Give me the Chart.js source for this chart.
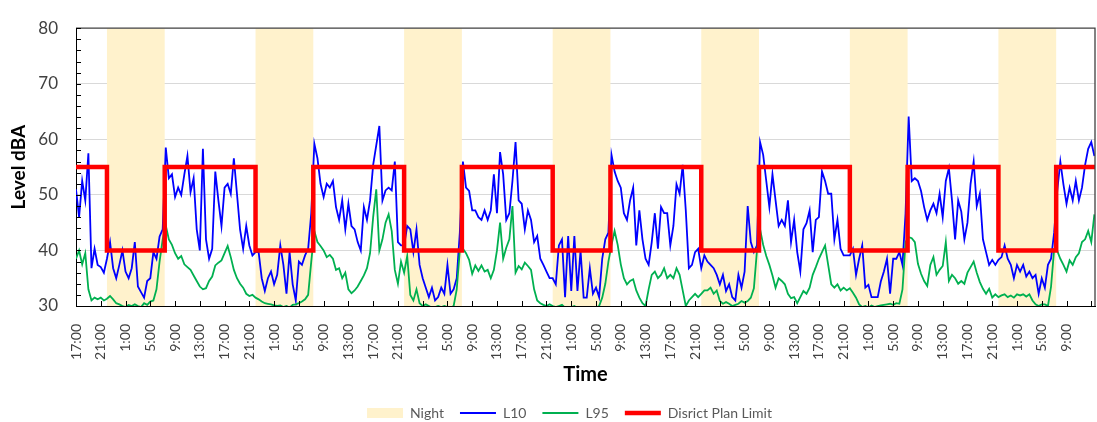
<!DOCTYPE html>
<html lang="en">
<head>
<meta charset="UTF-8">
<title>Noise levels</title>
<script src="https://cdn.jsdelivr.net/npm/chart.js"></script>
<style>
    html, body { margin: 0; padding: 0; background: #fff; }
    canvas { display: block; }
</style>
</head>
<body>
<canvas id="noiseChart" width="1097" height="422"></canvas>
<script>
// half-hourly readings, first one at 17:00
const START_HOUR = 17;
const STEP_HOURS = 0.5;
const AXIS_END = 164.6;   // hours shown on the time axis
const Y_MIN = 30;
const Y_MAX = 80;

// L10 (dBA)
const l10 = [
    51, 46, 52.5, 49, 57.5, 36.8, 40.3, 37.4, 37, 36, 38.5, 41.5, 36.8, 35, 37.4, 40, 36.2, 35, 36.8, 41.5,
    33.5, 32.5, 31.5, 34.5, 35, 39.7, 38.5, 42.5, 43.8, 58.5, 53, 53.7, 49.6, 51.3, 50, 53.7, 57, 50.5, 53, 43.8, 40,
    58.3, 42, 38.5, 40.3, 54.2, 49, 44.4, 51.3, 52, 50.2, 56.6, 50.2, 43.8, 40.3, 44.4, 40.9, 39.1, 39.7, 39.7, 35,
    32.7, 35, 36.2, 33.9, 35.6, 40.9, 37.4, 32.2, 39.7, 33.9, 31, 38, 37.4, 39.1, 40.3, 46.7, 59.2, 56.6, 52, 49.6, 52,
    51.3, 52.5, 47.8, 45.5, 49, 43.8, 48.4, 44.4, 43.8, 41.5, 40, 47.8, 45.5, 49, 55.4, 58.9, 62.4, 49, 50.8, 51.3,
    50.8, 56, 41.5, 40.9, 40.9, 44.4, 43.8, 39.7, 43.8, 37.4, 35, 33.3, 31.6, 33.3, 31, 31.6, 33.3, 32.2, 37.4, 32.2, 33,
    35, 43.2, 56, 51.3, 50.7, 47.2, 47.2, 46, 45.5, 47.2, 45.5, 47.2, 53.7, 46.7, 57.7, 53.7, 45.5, 46.7, 52.5, 59.5,
    49, 48.4, 43.8, 47.2, 45.5, 41.5, 42.6, 38.5, 37.4, 36.2, 35, 35, 33.9, 40.9, 42, 31.6, 42.6, 32.7, 42.6, 32.7,
    40, 31.5, 31.5,
    36.8, 32.2, 33.3, 31.6, 38.5, 42, 43.2, 57.2, 54.2, 52.5, 51.3, 46.7, 45.5, 49, 51.3, 40.9, 47.2, 42, 38.5, 37.4,
    41.5, 46.7, 40.3, 47.8, 46.7, 46.7, 40.9, 44.4, 51.9, 50.2, 55.4, 47.2, 36.8, 37.4, 39.7, 40.3, 36.8, 39.1, 38, 37.4,
    36.8, 35.6,
    33.9, 35.6, 32.7, 33.9, 31.6, 31, 35.6, 33.3, 36.2, 48, 41.5, 39.7, 40.9, 59.5, 57.2, 52.5, 47.8, 53.7, 49, 44.4,
    45.5, 44.4, 49, 41.5, 45.5, 39.7, 36.2, 43.8, 44.9, 47.2, 39.7, 45.5, 46, 54.2, 52.5, 50.2, 50.2, 42, 45.5, 40.3,
    39.1, 39.1,
    39.1, 40.3, 35.6, 38.5, 40.9, 33.3, 33.8, 31.6, 31.6, 31.6, 34.4, 36.2, 38.5, 32.2, 38.5, 38.5, 39.7, 37.4, 46.7, 64.1,
    52.5, 53, 52.5, 50.7, 47.8, 45.5, 47.2, 48.4, 46.7, 50.2, 46, 52.5, 54.8, 49, 42, 49, 47, 42, 45, 52,
    56, 48,
    50.2, 42, 39.7, 37.4, 38.3, 37.4, 38.3, 38.8, 40.9, 38.5, 37.4, 35, 37.4, 36.2, 37.4, 35.3, 36.2, 35, 35.6, 32.2,
    35, 33.3, 37.4, 38.5, 43.2, 50.7, 56, 51.9, 48.4, 51.3, 49, 52.5, 49, 51.3, 55.4, 58.3, 59.5, 57
];

// L95 (dBA)
const l95 = [
    38.5, 40, 37.5, 39.5, 33, 31, 31.5, 31.2, 31.5, 31, 31.3, 31.8, 31.2, 30.5, 30.3, 30, 29.8, 30.2, 30, 30.3,
    30, 29.8, 30.5, 30.2, 30.8, 31, 33, 38, 42, 44.5, 42, 41, 39.5, 38.5, 39, 37.5, 37, 36.5, 35.5, 34.5, 33.5,
    33, 33.2, 34.5, 35.3, 37.3, 37.8, 38.2, 39.5, 40.8, 38.8, 36.5, 35, 34, 33.3, 32.2, 31.8, 32, 31.5, 31.2, 30.8,
    30.5, 30.4, 30.3, 30.1, 30, 30.1, 29.8, 30, 29.7, 30.2, 30.3, 30.5, 30.8, 31.2, 32, 38, 43.5, 41.5, 40.8, 40, 38.8,
    39.2, 38.5, 36.5, 36.8, 35, 36, 33, 32.3, 32.8, 33.5, 34.5, 35.5, 36.8, 39.5, 46, 51, 40, 42, 45, 46.5,
    43.5, 36.5, 34, 38, 36, 39, 32, 31, 33, 30.5, 30, 30.3, 30, 29.7, 29.8, 30, 29.8, 30, 29.8, 29.7, 30,
    33, 40, 40.3, 39.5, 38.3, 35.8, 37.3, 36.3, 37.3, 36.2, 36.5, 35, 36.5, 40, 45, 38.5, 40.5, 42, 48, 36,
    37.2, 36.6, 37.8, 37.2, 36.5, 33, 31, 30.5, 30.2, 30, 30.3, 30, 29.8, 30, 30.2, 29.7, 29.5, 29.8, 30, 29.6,
    29.8, 29.5, 29.7,
    29.6, 29.8, 29.7, 30, 31.5, 34, 38, 41, 43.5, 41, 37.5, 35, 33.9, 34.5, 34.8, 32.8, 31.5, 30.5, 30, 33,
    35.6, 36.2, 35, 35.6, 36.8, 35, 35.6, 35, 36.8, 35.6, 32.8, 30, 31, 31.6, 32.2, 31.6, 32.2, 32.8, 32.8, 33.3,
    32.2, 32.8,
    30.9, 30.4, 30.7, 30.4, 30, 30.2, 30.4, 30.9, 30.6, 30.9, 31.5, 33.2, 40, 43.8, 41, 39, 37.4, 35.5, 33.3, 35,
    34.5, 33.9, 32.2, 31.4, 31.6, 30.5, 31.6, 32.7, 32.2, 33.3, 35.6, 37, 38.5, 39.7, 40.9, 37.4, 33.9, 33.3, 33.9, 32.8,
    33.3, 32.8,
    33.2, 32.4, 31.5, 30.3, 29.8, 30, 29.7, 30.1, 29.8, 30, 30.1, 30.2, 30.3, 30.4, 30.2, 30.5, 30.4, 33, 41.5, 42.4,
    42.2, 41.5, 37.6, 35.8, 34.5, 33.6, 37.4, 38.8, 35.6, 36.5, 37.2, 41.5, 34.5, 35.6, 35, 34, 34.5, 34, 36, 37,
    38, 36,
    34.3, 33.1, 32.2, 33.1, 31.5, 32.1, 31.6, 31.9, 32.1, 31.6, 31.9, 31.5, 32.1, 31.9, 32.1, 31.7, 32.1, 31, 30.3, 30,
    30.3, 30.3, 30, 33.5, 40.2, 39.9, 38.5, 37.4, 36.2, 38.2, 37.4, 38.8, 39.5, 41.5, 42, 43.5, 41.5, 46.5
];

// night periods, in hours from the first reading (22:00 to about 07:20)
const nightStart = [5, 29, 53, 77, 101, 125, 149];
const nightEnd = [14.33, 38.33, 62.33, 86.33, 110.33, 134.33, 158.33];

// district plan limit
const limitDay = 55;
const limitNight = 40;

// build point lists
const l10Points = l10.map((v, i) => ({ x: i * STEP_HOURS, y: v }));
const l95Points = l95.map((v, i) => ({ x: i * STEP_HOURS, y: v }));

const nightPoints = [{ x: 0, y: Y_MIN }];
const limitPoints = [{ x: 0, y: limitDay }];
nightStart.forEach((s, i) => {
    nightPoints.push({ x: s, y: Y_MAX }, { x: nightEnd[i], y: Y_MIN });
    limitPoints.push({ x: s, y: limitNight }, { x: nightEnd[i], y: limitDay });
});
nightPoints.push({ x: AXIS_END, y: Y_MIN });
limitPoints.push({ x: AXIS_END, y: limitDay });

// frame on top/right and the small inside tick marks
const frameAndTicks = {
    id: 'frameAndTicks',
    afterLayout(chart) {
        // the legend in the original sits a little right of the page centre
        const lg = chart.legend;
        lg.left += 22;
        lg.right += 22;
    },
    afterDraw(chart) {
        const { ctx, chartArea: a, scales: { x, y } } = chart;
        ctx.save();
        ctx.strokeStyle = '#404040';
        ctx.lineWidth = 1.3;
        ctx.beginPath();
        ctx.moveTo(a.left, a.top);
        ctx.lineTo(a.right, a.top);
        ctx.lineTo(a.right, a.bottom);
        ctx.stroke();

        ctx.strokeStyle = '#000';
        ctx.lineWidth = 1;
        ctx.beginPath();
        y.ticks.forEach(t => {
            const py = Math.round(y.getPixelForValue(t.value)) + 0.5;
            ctx.moveTo(a.left, py);
            ctx.lineTo(a.left + 5, py);
        });
        x.ticks.forEach(t => {
            const px = Math.round(x.getPixelForValue(t.value)) + 0.5;
            ctx.moveTo(px, a.bottom);
            ctx.lineTo(px, a.bottom - 5);
        });
        ctx.stroke();
        ctx.restore();
    }
};

const FONT = 'Lato, "Open Sans", sans-serif';

new Chart(document.getElementById('noiseChart'), {
    type: 'line',
    data: {
        datasets: [
            {
                label: 'Disrict Plan Limit',
                data: limitPoints,
                borderColor: '#ff0000',
                borderWidth: 4.5,
                stepped: true,
                borderJoinStyle: 'miter',
                pointRadius: 0,
                order: 0
            },
            {
                label: 'L95',
                data: l95Points,
                borderColor: '#00b050',
                borderWidth: 1.8,
                pointRadius: 0,
                order: 1
            },
            {
                label: 'L10',
                data: l10Points,
                borderColor: '#0000ff',
                borderWidth: 1.8,
                pointRadius: 0,
                order: 2
            },
            {
                label: 'Night',
                data: nightPoints,
                borderColor: 'transparent',
                borderWidth: 0,
                backgroundColor: '#fff2cc',
                fill: 'start',
                stepped: true,
                pointRadius: 0,
                order: 3
            }
        ]
    },
    options: {
        responsive: false,
        animation: false,
        parsing: false,
        layout: { padding: { top: 8, right: 2, left: 0, bottom: 0 } },
        scales: {
            x: {
                type: 'linear',
                min: 0,
                max: AXIS_END,
                afterFit: scale => {
                    scale.height = 84;
                    scale.paddingLeft = 0;
                    scale.paddingRight = 0;
                },
                grid: { display: false },
                border: { color: '#000', width: 1 },
                ticks: {
                    stepSize: 4,
                    includeBounds: false,
                    autoSkip: false,
                    minRotation: 90,
                    maxRotation: 90,
                    padding: 10,
                    color: '#404040',
                    font: { family: FONT, size: 14 },
                    // the last tick has no label in the original
                    callback: v => (v + 4 > AXIS_END ? '' : ((START_HOUR + v) % 24) + ':00')
                },
                title: {
                    display: true,
                    text: 'Time',
                    color: '#000',
                    font: { family: FONT, size: 20, weight: 'bold' },
                    padding: { top: 0, bottom: 3 }
                }
            },
            y: {
                min: Y_MIN,
                max: Y_MAX,
                afterFit: scale => { scale.width = 76; },
                grid: {
                    drawTicks: false,
                    color: c => (c.tick.value % 10 === 0 && c.tick.value !== Y_MAX && c.tick.value !== Y_MIN ? '#d9d9d9' : 'transparent')
                },
                border: { color: '#000', width: 1 },
                ticks: {
                    stepSize: 2,
                    autoSkip: false,
                    padding: 18,
                    color: '#404040',
                    font: { family: FONT, size: 17 },
                    callback: v => (v % 10 === 0 ? v : '')
                },
                title: {
                    display: true,
                    text: 'Level dBA',
                    color: '#000',
                    font: { family: FONT, size: 19, weight: 'bold' },
                    padding: { top: 7, bottom: 0 }
                }
            }
        },
        plugins: {
            tooltip: { enabled: false },
            legend: {
                position: 'bottom',
                maxHeight: 32,
                labels: {
                    usePointStyle: true,
                    pointStyleWidth: 36,
                    boxHeight: 10,
                    padding: 16,
                    color: '#595959',
                    font: { family: FONT, size: 14 },
                    generateLabels: chart => ['Night', 'L10', 'L95', 'Disrict Plan Limit'].map(name => {
                        const i = chart.data.datasets.findIndex(d => d.label === name);
                        const ds = chart.data.datasets[i];
                        const isNight = name === 'Night';
                        return {
                            text: name,
                            datasetIndex: i,
                            pointStyle: isNight ? 'rect' : 'line',
                            fillStyle: isNight ? ds.backgroundColor : 'transparent',
                            strokeStyle: isNight ? 'transparent' : ds.borderColor,
                            lineWidth: isNight ? 0 : ds.borderWidth,
                            fontColor: '#595959'
                        };
                    })
                }
            }
        }
    },
    plugins: [frameAndTicks]
});
</script>
</body>
</html>
